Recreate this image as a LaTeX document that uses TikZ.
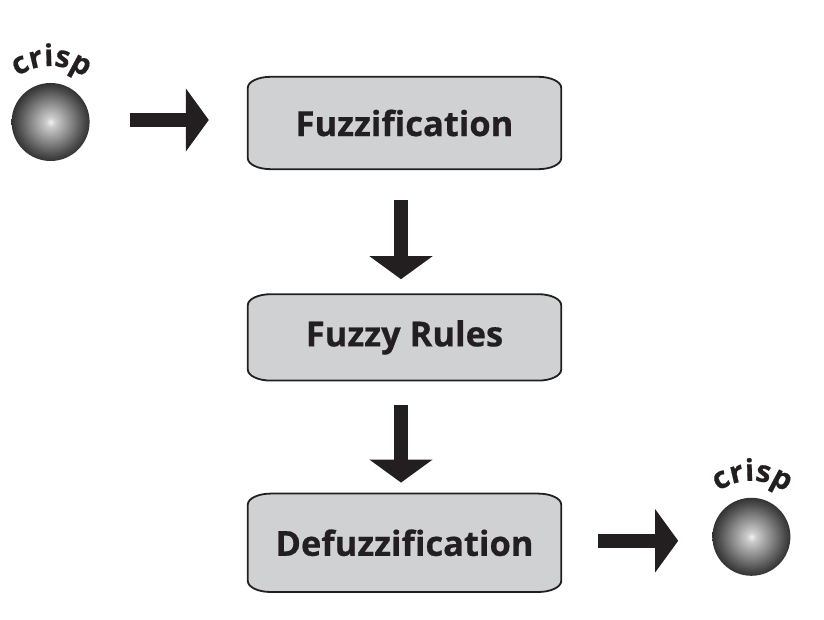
\documentclass[tikz,border=0pt]{standalone}
\usepackage{fontspec}
\usepackage{xcolor}
\usetikzlibrary{positioning,arrows.meta,calc,backgrounds,decorations.text}
\setmainfont{Open Sans}[BoldFeatures={FakeBold=0.6}]
\definecolor{boxgray}{HTML}{D0D1D3}
\definecolor{inkdark}{HTML}{231F20}
\pgfdeclareradialshading{crispball}{\pgfpointorigin}{
  rgb(0bp)=(0.95,0.95,0.95);
  rgb(3bp)=(0.80,0.80,0.80);
  rgb(12.5bp)=(0.54,0.54,0.54);
  rgb(21bp)=(0.30,0.30,0.30);
  rgb(25bp)=(0.20,0.20,0.20);
  rgb(50bp)=(0.20,0.20,0.20)
}
\newcommand{\crispfont}{\fontsize{30}{30}\selectfont\bfseries}
\tikzset{
  stage/.style={minimum width=313pt, inner sep=0pt, text=inkdark,
    font=\fontsize{34.5}{34.5}\selectfont\bfseries},
  ball/.style={circle, minimum size=78pt, inner sep=0pt, shading=crispball},
  blockarrow/.style={-{Triangle[length=23pt,width=62pt,fill=inkdark]}, line width=14pt, color=inkdark},
}

\begin{document}
\begin{tikzpicture}[x=1pt,y=1pt]
\useasboundingbox (0,0) rectangle (824,620);

\node[stage, minimum height=92pt] (fuzz) at (404.5,497) {Fuzzification};
\node[stage, minimum height=86pt, below=125pt of fuzz] (rules) {Fuzzy Rules};
\node[stage, minimum height=98pt, below=113pt of rules] (defuzz) {Defuzzification};
\node[ball, left=158pt of fuzz, yshift=1pt] (ballA) {};
\node[ball, right=151pt of defuzz, yshift=6pt] (ballB) {};

\begin{scope}[on background layer]
\foreach \b in {fuzz,rules,defuzz}
  \draw[fill=boxgray, draw=inkdark, line width=1.8pt]
    ($(\b.north west)+(23,0)$) -- ($(\b.north east)+(-23,0)$)
    arc[start angle=90, end angle=0, x radius=23, y radius=11]
    -- ($(\b.south east)+(0,11)$)
    arc[start angle=0, end angle=-90, x radius=23, y radius=11]
    -- ($(\b.south west)+(23,0)$)
    arc[start angle=270, end angle=180, x radius=23, y radius=11]
    -- ($(\b.north west)+(0,-11)$)
    arc[start angle=180, end angle=90, x radius=23, y radius=11]
    -- cycle;
\end{scope}

\foreach \b in {ballA,ballB}
  \path[decorate, decoration={text along path, text align={fit to path},
      text color=inkdark, text={|\crispfont|crisp}}]
    ([shift={(126:56)}]\b.center) arc[start angle=126, end angle=60, radius=56];

\draw[blockarrow, shorten <=40pt, shorten >=39pt] ([yshift=2pt]ballA.east) -- ([yshift=3pt]fuzz.west);
\draw[blockarrow, shorten <=31pt, shorten >=15pt] ([xshift=-3.5pt]fuzz.south) -- ([xshift=-3.5pt]rules.north);
\draw[blockarrow, shorten <=24pt, shorten >=11pt] ([xshift=-3.5pt]rules.south) -- ([xshift=-3.5pt]defuzz.north);
\draw[blockarrow, shorten <=37pt, shorten >=34pt] ([yshift=2pt]defuzz.east) -- ([yshift=-4pt]ballB.west);
\end{tikzpicture}
\end{document}
